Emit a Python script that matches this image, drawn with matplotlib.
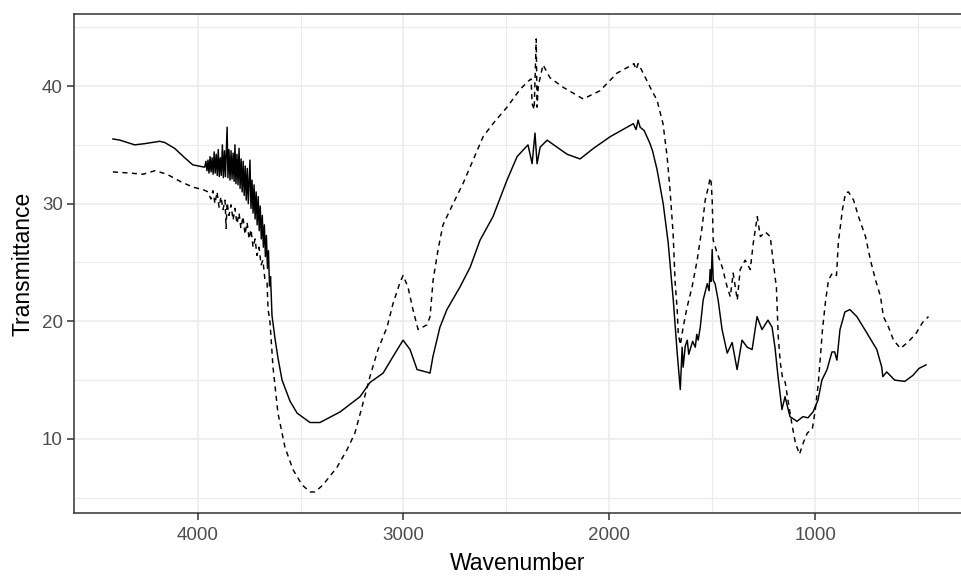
import matplotlib
matplotlib.use("Agg")
import matplotlib.pyplot as plt
from matplotlib.ticker import FixedLocator

# Solid spectrum (wavenumber, transmittance)
solid_w = [4412, 4378, 4306, 4258, 4185, 4160, 4112, 4063, 4024, 3966,
           3960, 3955, 3950, 3945, 3940, 3935, 3930, 3925, 3920, 3915,
           3910, 3905, 3900, 3895, 3890, 3885, 3880, 3875, 3870, 3865,
           3860, 3857, 3853, 3848, 3843, 3838, 3833, 3828, 3823, 3819,
           3814, 3809, 3804, 3799, 3794, 3789, 3784, 3779, 3774, 3769,
           3764, 3759, 3754, 3746, 3741, 3736, 3731, 3726, 3721, 3716,
           3711, 3706, 3701, 3696, 3691, 3686, 3681, 3676, 3671, 3666,
           3661, 3656, 3651, 3646, 3639,
           3624, 3610, 3590, 3551, 3517, 3454, 3406, 3308, 3211,
           3163, 3099, 3051, 3002, 2968, 2934, 2890, 2871, 2857, 2823,
           2789, 2726, 2676, 2628, 2565, 2497, 2448, 2395, 2375, 2361,
           2351, 2336, 2302, 2254, 2205, 2142, 2077, 1995, 1913, 1883,
           1870, 1860, 1850, 1830, 1802, 1790, 1768, 1738, 1714, 1689,
           1670, 1655, 1646, 1641, 1631, 1621, 1614, 1607, 1595, 1582,
           1575, 1568, 1558, 1544, 1524, 1515, 1510, 1505, 1500, 1495,
           1486, 1471, 1452, 1427, 1403, 1379,
           1355, 1330, 1306, 1282, 1258, 1229, 1209, 1195, 1180, 1161,
           1146, 1122, 1088, 1059, 1035, 1010, 986, 967, 942, 918,
           905, 894, 879, 855, 831, 797, 748, 700, 676, 671,
           652, 613, 564, 525, 495, 461]
solid_t = [35.5, 35.4, 35.0, 35.1, 35.3, 35.2, 34.7, 33.9, 33.3, 33.1,
           33.6, 32.8, 33.7, 32.6, 34.0, 32.7, 33.9, 32.5, 34.4, 32.6,
           34.2, 32.4, 34.6, 32.3, 33.9, 32.4, 35.0, 32.2, 34.5, 32.3,
           34.8, 36.5, 32.2, 34.6, 32.0, 34.5, 32.1, 34.3, 31.9, 35.0,
           31.7, 34.2, 31.6, 34.7, 31.3, 33.8, 31.0, 33.6, 30.7, 33.2,
           30.3, 33.0, 30.0, 33.7, 29.6, 32.0, 29.2, 31.6, 28.7, 31.0,
           28.2, 30.6, 27.7, 29.8, 27.0, 29.0, 26.3, 28.2, 25.5, 27.3,
           24.5, 26.0, 23.0, 23.8, 20.5,
           18.5, 16.9, 15.0, 13.2, 12.2, 11.4, 11.4, 12.3, 13.6,
           14.8, 15.6, 17.0, 18.4, 17.6, 15.9, 15.7, 15.6, 17.0, 19.5,
           21.0, 22.9, 24.6, 26.9, 28.9, 32.0, 34.0, 35.0, 33.4, 36.0,
           33.4, 34.8, 35.4, 34.8, 34.2, 33.8, 34.7, 35.7, 36.5, 36.8,
           36.3, 37.1, 36.5, 36.2, 35.1, 34.5, 32.9, 30.0, 26.7, 21.8,
           17.3, 14.2, 17.8, 16.1, 17.9, 18.4, 17.2, 17.6, 18.3, 17.8,
           18.9, 18.4, 19.5, 21.8, 23.2, 22.6, 24.4, 23.4, 26.1, 23.5,
           23.2, 21.8, 19.3, 17.3, 18.2, 15.9,
           18.4, 17.8, 17.6, 20.4, 19.3, 20.1, 19.5, 17.8, 15.3, 12.5,
           13.6, 11.9, 11.5, 11.9, 11.8, 12.3, 13.3, 15.0, 15.9, 17.4,
           17.4, 16.7, 19.3, 20.8, 21.0, 20.4, 19.0, 17.6, 16.1, 15.3,
           15.7, 15.0, 14.9, 15.4, 16.0, 16.3]

# Dashed spectrum (wavenumber, transmittance)
dashed_w = [4412, 4329, 4266, 4207, 4149, 4086, 4023, 3974, 3950, 3936,
            3926, 3916, 3906, 3896, 3887, 3877, 3867, 3862, 3857, 3848,
            3838, 3828, 3819, 3809, 3799, 3790, 3780, 3770, 3760, 3750,
            3741, 3731, 3721, 3712, 3702, 3692, 3683, 3673, 3663, 3658,
            3649, 3634, 3610, 3576, 3537, 3493, 3454,
            3430, 3391, 3323, 3274, 3236, 3202, 3163, 3124, 3080, 3051,
            3017, 3002, 2978, 2954, 2929, 2886, 2871, 2856, 2832, 2808,
            2759, 2711, 2662, 2613, 2565, 2497, 2434, 2395, 2380, 2375,
            2365, 2355, 2351, 2345, 2322, 2288, 2225, 2127, 2045, 1962,
            1899, 1880, 1870, 1860, 1850, 1816, 1790, 1768, 1739, 1719,
            1705, 1690, 1680, 1670, 1665, 1655, 1641, 1622, 1598, 1573,
            1549, 1534, 1519, 1510, 1505, 1500, 1495, 1476, 1451, 1427,
            1412, 1398, 1378, 1364, 1340, 1315, 1300, 1281, 1266, 1242,
            1218, 1203, 1188, 1179, 1169, 1159, 1145, 1130, 1111, 1096,
            1076, 1057, 1038, 1013, 999, 984, 974, 964, 950, 935,
            916, 896, 887, 867, 852, 838, 813, 789, 755, 731,
            706, 682, 668, 643, 619, 585, 551, 512, 478, 449]
dashed_t = [32.7, 32.6, 32.5, 32.8, 32.5, 31.9, 31.4, 31.2, 31.0, 30.4,
            31.1, 30.0, 31.0, 29.7, 30.6, 29.5, 30.3, 27.9, 30.1, 29.0,
            29.9, 28.6, 29.6, 28.3, 29.2, 27.9, 28.9, 27.4, 28.4, 27.0,
            27.8, 26.3, 27.0, 25.6, 26.3, 24.8, 25.2, 23.5, 23.3, 21.0,
            20.0, 16.1, 12.2, 9.3, 7.4, 6.1, 5.5,
            5.5, 6.1, 7.6, 9.1, 10.5, 12.7, 15.3, 17.6, 19.5, 21.5,
            23.3, 23.9, 22.9, 21.0, 19.3, 19.7, 20.4, 23.5, 26.1, 28.2,
            30.0, 31.7, 33.7, 35.7, 36.8, 38.2, 39.7, 40.4, 40.6, 38.5,
            38.0, 44.0, 38.2, 40.0, 41.8, 40.7, 39.9, 38.9, 39.6, 41.1,
            41.7, 41.9, 41.4, 41.9, 41.6, 40.4, 39.5, 38.8, 36.8, 34.0,
            31.2, 27.5, 23.3, 21.0, 19.0, 18.0, 19.5, 21.2, 22.9, 25.2,
            28.0, 30.3, 31.4, 32.2, 31.8, 30.3, 26.9, 25.8, 24.6, 22.9,
            22.1, 24.1, 21.8, 24.4, 25.2, 24.4, 26.7, 28.9, 27.2, 27.6,
            27.2, 25.0, 22.9, 18.7, 16.5, 15.3, 14.8, 13.1, 11.1, 9.7,
            8.7, 9.7, 10.5, 10.9, 12.5, 14.8, 17.0, 19.3, 21.6, 23.5,
            24.1, 23.9, 26.7, 29.5, 30.9, 31.0, 30.3, 28.9, 27.2, 25.2,
            23.5, 22.1, 20.4, 19.5, 18.4, 17.7, 18.2, 18.9, 19.9, 20.4]

x_major = [4000, 3000, 2000, 1000]
x_minor = [3500, 2500, 1500, 500]
y_major = [10, 20, 30, 40]
y_minor = [5, 15, 25, 35, 45]

plt.rcParams['font.family'] = ['Liberation Sans', 'DejaVu Sans']

fig = plt.figure(figsize=(9.61, 5.77), dpi=100)
ax = fig.add_axes([74/961, 1 - 513/577, 1 - 74/961, (513 - 14)/577])

grid_c = '#EBEBEB'
for v in x_minor:
    ax.axvline(v, color=grid_c, lw=0.8, zorder=0)
for v in x_major:
    ax.axvline(v, color=grid_c, lw=1.1, zorder=0)
for v in y_minor:
    ax.axhline(v, color=grid_c, lw=0.8, zorder=0)
for v in y_major:
    ax.axhline(v, color=grid_c, lw=1.1, zorder=0)

ax.plot(dashed_w, dashed_t, color='black', lw=1.05, linestyle=(0, (3.5, 3)), zorder=2)
ax.plot(solid_w, solid_t, color='black', lw=1.05, zorder=3)

ax.set_xlim(4601, 291)
ax.set_ylim(3.71, 46.12)
ax.xaxis.set_major_locator(FixedLocator(x_major))
ax.yaxis.set_major_locator(FixedLocator(y_major))
ax.set_xticklabels([str(v) for v in x_major])
ax.set_yticklabels([str(v) for v in y_major])

for s in ['left', 'bottom', 'top']:
    ax.spines[s].set_color('#333333')
    ax.spines[s].set_linewidth(1.1)
ax.spines['right'].set_visible(False)

ax.tick_params(axis='both', colors='#333333', length=5, width=1.1,
               labelcolor='#4D4D4D', labelsize=13.5, pad=3)
ax.tick_params(axis='x', pad=5)

ax.set_xlabel('Wavenumber', fontsize=16.5, color='black', labelpad=6)
ax.set_ylabel('Transmittance', fontsize=16.5, color='black', labelpad=5)

fig.savefig('out.png', dpi=100)
